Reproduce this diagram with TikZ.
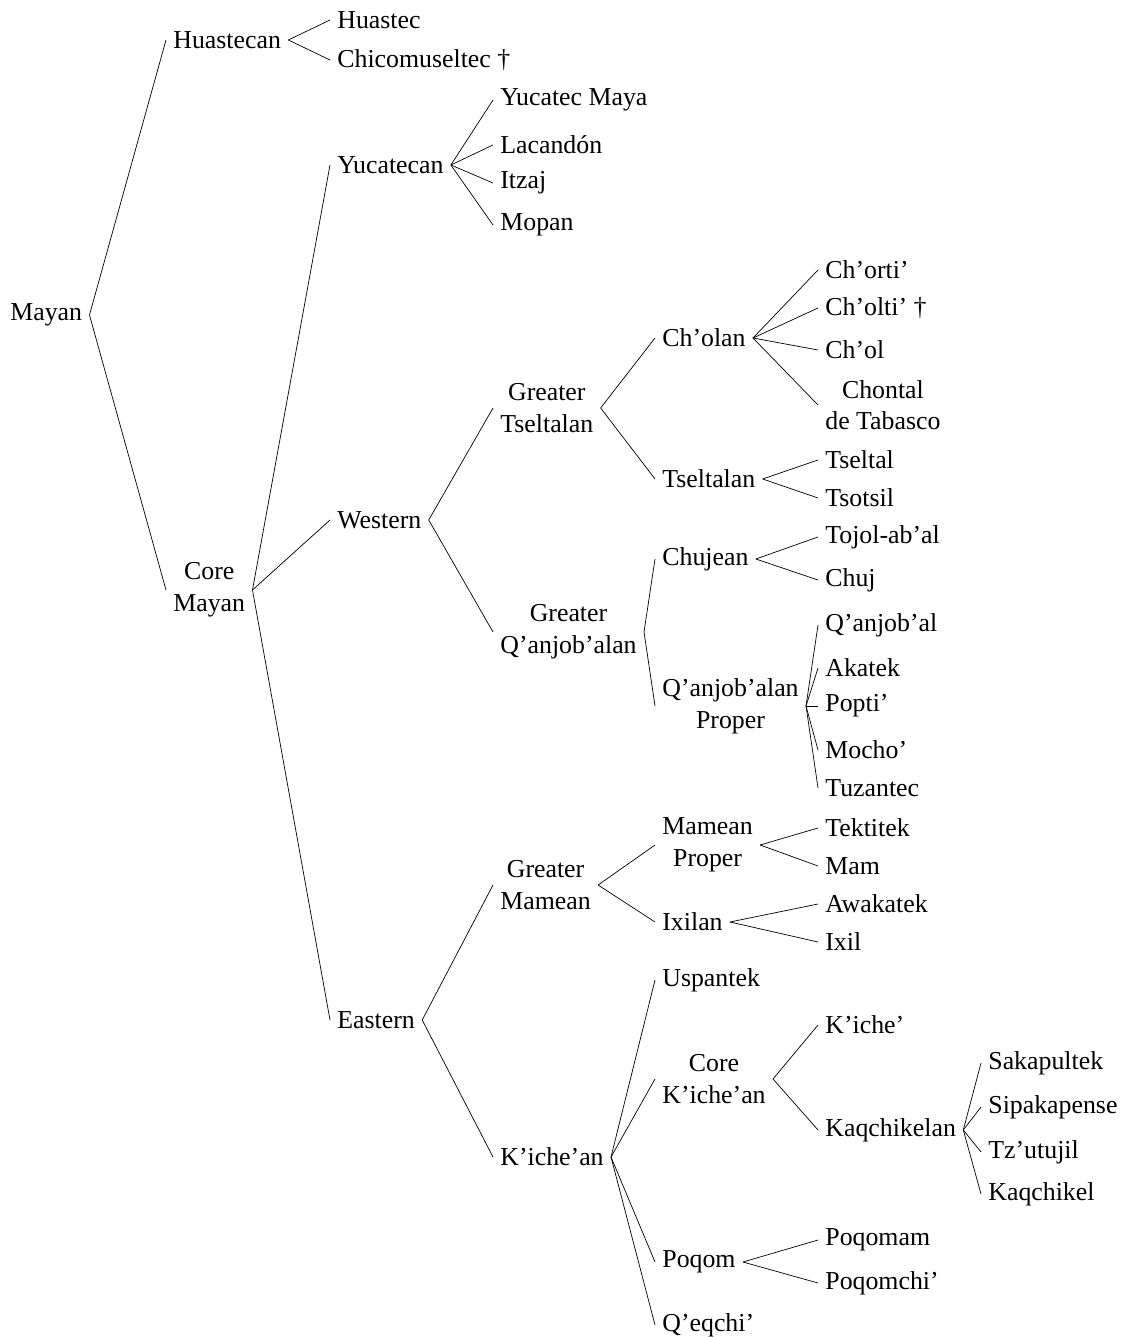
\documentclass[tikz,border=0pt]{standalone}
\usepackage{fontspec}
\setmainfont{Liberation Serif}

\tikzset{
  lang/.style = {anchor = west, inner sep = 4pt, align = center,
                 font = \fontsize{14.7}{18}\selectfont},
}

\begin{document}
\begin{tikzpicture}[x = 0.02cm, y = -0.02cm]
        \useasboundingbox (0, 0) rectangle (1122, 1337);

        % ------------------------------------------------------------------------
        % Top of the tree
        \node[lang] at (3, 315) (mayan) {Mayan};

        \node[lang] at (166, 40) (huastecan) {Huastecan};
        \node[lang] at (166, 590) (coremayan) {Core\\Mayan};

        \node[lang] at (330, 20) (huastec) {Huastec};
        \node[lang] at (330, 60) (chicomuseltec) {Chicomuseltec †};

        \node[lang] at (330, 165)  (yucatecan) {Yucatecan};
        \node[lang] at (330, 520)  (western) {Western};
        \node[lang] at (330, 1020) (eastern) {Eastern};

        \draw
          (mayan.east) edge (huastecan.west)
          (mayan.east) edge (coremayan.west)
          (huastecan.east) edge (huastec.west)
          (huastecan.east) edge (chicomuseltec.west)
          (coremayan.east) edge (yucatecan.west)
          (coremayan.east) edge (western.west)
          (coremayan.east) edge (eastern.west)
        ;

        % ------------------------------------------------------------------------
        % Yucatecan
        \node[lang] at (493, 100) (yucatecmaya) {Yucatec Maya};
        \node[lang] at (493, 145) (lacandon) {Lacandón};
        \node[lang] at (493, 183) (itzaj) {Itzaj};
        \node[lang] at (493, 225) (mopan) {Mopan};

        \draw
          (yucatecan.east) edge (yucatecmaya.west)
          (yucatecan.east) edge (lacandon.west)
          (yucatecan.east) edge (itzaj.west)
          (yucatecan.east) edge (mopan.west)
        ;

        % ------------------------------------------------------------------------
        % Western
        \node[lang] at (493, 408) (gtseltalan) {Greater\\Tseltalan};
        \node[lang] at (493, 632) (gqanjobalan) {Greater\\Q’anjob’alan};

        \node[lang] at (655, 338) (cholan) {Ch’olan};
        \node[lang] at (655, 479) (tseltalan) {Tseltalan};
        \node[lang] at (655, 559) (chujean) {Chujean};
        \node[lang] at (655, 706) (qproper) {Q’anjob’alan\\Proper};

        \node[lang] at (818, 270) (chorti) {Ch’orti’};
        \node[lang] at (818, 308) (cholti) {Ch’olti’ †};
        \node[lang] at (818, 350) (chol) {Ch’ol};
        \node[lang] at (818, 405) (chontal) {Chontal\\de Tabasco};
        \node[lang] at (818, 460) (tseltal) {Tseltal};
        \node[lang] at (818, 498) (tsotsil) {Tsotsil};
        \node[lang] at (818, 537) (tojolabal) {Tojol-ab’al};
        \node[lang] at (818, 580) (chuj) {Chuj};
        \node[lang] at (818, 625) (qanjobal) {Q’anjob’al};
        \node[lang] at (818, 668) (akatek) {Akatek};
        \node[lang] at (818, 706) (popti) {Popti’};
        \node[lang] at (818, 750) (mocho) {Mocho’};
        \node[lang] at (818, 788) (tuzantec) {Tuzantec};

        \draw
          (western.east) edge (gtseltalan.west)
          (western.east) edge (gqanjobalan.west)
          (gtseltalan.east) edge (cholan.west)
          (gtseltalan.east) edge (tseltalan.west)
          (gqanjobalan.east) edge (chujean.west)
          (gqanjobalan.east) edge (qproper.west)
        ;
        \draw
          (cholan.east) edge (chorti.west)
          (cholan.east) edge (cholti.west)
          (cholan.east) edge (chol.west)
          (cholan.east) edge (chontal.west)
          (tseltalan.east) edge (tseltal.west)
          (tseltalan.east) edge (tsotsil.west)
          (chujean.east) edge (tojolabal.west)
          (chujean.east) edge (chuj.west)
          (qproper.east) edge (qanjobal.west)
          (qproper.east) edge (akatek.west)
          (qproper.east) edge (popti.west)
          (qproper.east) edge (mocho.west)
          (qproper.east) edge (tuzantec.west)
        ;

        % ------------------------------------------------------------------------
        % Eastern
        \node[lang] at (493, 885)  (gmamean) {Greater\\Mamean};
        \node[lang] at (493, 1157) (kicheean) {K’iche’an};

        \node[lang] at (655, 845)  (mproper) {Mamean\\Proper};
        \node[lang] at (655, 922)  (ixilan) {Ixilan};
        \node[lang] at (655, 980)  (uspantek) {Uspantek};
        \node[lang] at (655, 1079) (corek) {Core\\K’iche’an};
        \node[lang] at (655, 1262) (poqom) {Poqom};
        \node[lang] at (655, 1325) (qeqchi) {Q’eqchi’};

        \node[lang] at (818, 828)  (tektitek) {Tektitek};
        \node[lang] at (818, 866)  (mam) {Mam};
        \node[lang] at (818, 904)  (awakatek) {Awakatek};
        \node[lang] at (818, 942)  (ixil) {Ixil};
        \node[lang] at (818, 1025) (kiche) {K’iche’};
        \node[lang] at (818, 1130) (kaqchikelan) {Kaqchikelan};
        \node[lang] at (818, 1240) (poqomam) {Poqomam};
        \node[lang] at (818, 1283) (poqomchi) {Poqomchi’};

        \node[lang] at (981, 1063) (sakapultek) {Sakapultek};
        \node[lang] at (981, 1107) (sipakapense) {Sipakapense};
        \node[lang] at (981, 1152) (tzutujil) {Tz’utujil};
        \node[lang] at (981, 1194) (kaqchikel) {Kaqchikel};

        \draw
          (eastern.east) edge (gmamean.west)
          (eastern.east) edge (kicheean.west)
          (gmamean.east) edge (mproper.west)
          (gmamean.east) edge (ixilan.west)
          (kicheean.east) edge (uspantek.west)
          (kicheean.east) edge (corek.west)
          (kicheean.east) edge (poqom.west)
          (kicheean.east) edge (qeqchi.west)
        ;
        \draw
          (mproper.east) edge (tektitek.west)
          (mproper.east) edge (mam.west)
          (ixilan.east) edge (awakatek.west)
          (ixilan.east) edge (ixil.west)
          (corek.east) edge (kiche.west)
          (corek.east) edge (kaqchikelan.west)
          (poqom.east) edge (poqomam.west)
          (poqom.east) edge (poqomchi.west)
          (kaqchikelan.east) edge (sakapultek.west)
          (kaqchikelan.east) edge (sipakapense.west)
          (kaqchikelan.east) edge (tzutujil.west)
          (kaqchikelan.east) edge (kaqchikel.west)
        ;
      \end{tikzpicture}
\end{document}
